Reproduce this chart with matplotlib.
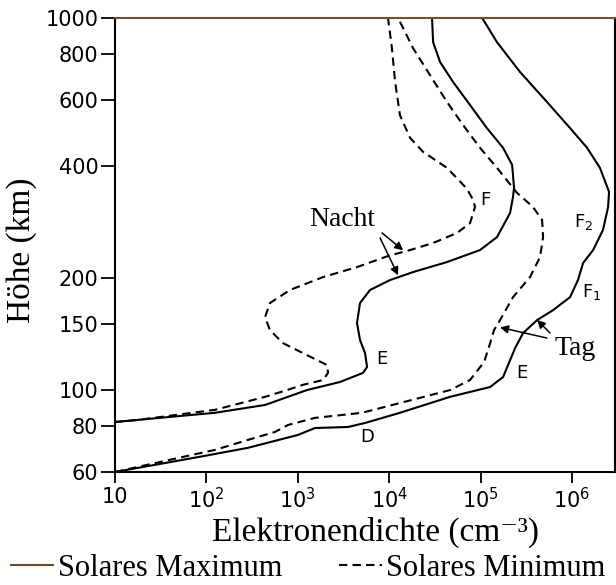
import numpy as np
import matplotlib
matplotlib.use('Agg')
import matplotlib.pyplot as plt
from matplotlib.lines import Line2D
from matplotlib.ticker import NullLocator

# electron density (cm^-3) and height (km)
# night, solar minimum (dashed)
nacht_min_n = [10, 17.4, 124, 438, 762, 1140, 1890, 2140, 2090, 1260, 689, 496, 438, 496,
               822, 1890, 4440, 9700, 16900, 30200, 55200, 76600, 86800, 82600, 71000,
               42900, 23400, 16900, 13100, 11600, 10700, 9700]
nacht_min_h = [81.8, 82.8, 88.2, 95.6, 99.7, 103, 106.1, 110.9, 116.4, 123.8, 133.3, 144.5,
               156.6, 171, 185.4, 200.8, 213.6, 228.8, 237.4, 248, 263.9, 280.7, 310,
               323.9, 346.9, 395, 436.4, 475.9, 547.7, 672.9, 829.9, 1000]

# night, solar maximum (solid)
nacht_max_n = [10, 124, 438, 1260, 2890, 5170, 5720, 5440, 4790, 4440, 4790, 6170, 10200,
               18200, 42900, 98500, 151000, 210000, 226000, 232000, 221000, 176000, 117000,
               76600, 49900, 36000, 30200, 29400]
nacht_max_h = [81.8, 86.6, 90.9, 99.7, 104.8, 110.9, 115, 125.3, 135.9, 151, 171, 185.4,
               197.1, 207.1, 220.4, 237.4, 257.3, 298.8, 330, 349, 402.5, 447.3, 505.5,
               583, 672.9, 761.1, 860.8, 1000]

# day, solar minimum (dashed)
tag_min_n = [10, 54.1, 124, 285, 563, 781, 1542, 5040, 13100, 46300, 76600, 109000, 127000,
             140000, 163000, 226000, 347000, 447000, 482000, 470000, 374000, 250000, 151000,
             98500, 64200, 42900, 27900, 18200, 12500]
tag_min_h = [60, 65.8, 68.8, 73.2, 76.9, 80.3, 83.9, 86.6, 92, 99.7, 106.1, 118.6, 133.3,
             144.5, 153.8, 177.3, 200.8, 227.4, 257.3, 286.1, 310, 338.3, 395,
             447.3, 515.2, 594, 702.2, 829.9, 1000]

# day, solar maximum (solid)
tag_max_n = [10, 80.9, 285, 1005, 1542, 3540, 5440, 13100, 46300, 127000, 176000, 210000,
             238000, 291000, 414000, 620000, 951000, 1160000, 1320000, 1700000, 2180000,
             2480000, 2540000, 2020000, 1460000, 951000, 533000, 270000, 151000, 104000]
tag_max_h = [60, 65.8, 69.7, 75.5, 78.8, 79.3, 81.3, 86.6, 95.6, 101.6, 108.1, 120,
             129.3, 141.9, 153.8, 163.6, 177.3, 197.1, 219, 237.4, 268.9,
             310, 340.4, 395, 447.3, 505.5, 594, 715.4, 860.8, 1000]

h_ticks = [60, 80, 100, 150, 200, 400, 600, 800, 1000]
n_ticks = [10, 1e2, 1e3, 1e4, 1e5, 1e6]
n_tick_labels = ['10', '$10^{2}$', '$10^{3}$', '$10^{4}$', '$10^{5}$', '$10^{6}$']

serif = ['Liberation Serif', 'DejaVu Serif']
sans = ['DejaVu Sans']

fig = plt.figure(figsize=(6.16, 5.85), dpi=100)
ax = fig.add_axes([115/616, 1 - 472/585, 500/616, 454/585])
ax.set_xscale('log')
ax.set_yscale('log')

lw = 1.5
dash = (0, (4, 2.5))
ax.plot(nacht_min_n, nacht_min_h, color='k', lw=lw, ls=dash)
ax.plot(tag_min_n, tag_min_h, color='k', lw=lw, ls=dash)
ax.plot(nacht_max_n, nacht_max_h, color='k', lw=lw)
ax.plot(tag_max_n, tag_max_h, color='k', lw=lw)

ax.set_xlim(10, 2.95e6)
ax.set_ylim(60, 1000)

ax.set_yticks(h_ticks)
ax.set_yticklabels([str(v) for v in h_ticks])
ax.yaxis.set_minor_locator(NullLocator())
ax.set_xticks(n_ticks)
ax.set_xticklabels(n_tick_labels)
ax.xaxis.set_minor_locator(NullLocator())
ax.tick_params(axis='y', direction='out', length=10, width=1.3, pad=2, labelsize=15)
ax.tick_params(axis='x', direction='out', length=8, width=1.3, pad=3, labelsize=15)
for s in ax.spines.values():
    s.set_linewidth(1.5)
ax.spines['top'].set_color('#6e5038')

# layer labels
ax.text(8340, 121, 'E', fontsize=13, family=sans, ha='center', va='center')
ax.text(284000, 111, 'E', fontsize=13, family=sans, ha='center', va='center')
ax.text(5710, 74.4, 'D', fontsize=13, family=sans, ha='center', va='center')
ax.text(112000, 324, 'F', fontsize=13, family=sans, ha='center', va='center')
ax.text(1.35e6, 282, r'F$_\mathregular{2}$', fontsize=13, family=sans, ha='center', va='center')
ax.text(1.66e6, 183, r'F$_\mathregular{1}$', fontsize=13, family=sans, ha='center', va='center')

# Nacht / Tag with arrows
ax.text(3050, 286, 'Nacht', fontsize=20, family=serif, ha='center', va='center')
ax.text(1.08e6, 129, 'Tag', fontsize=20, family=serif, ha='center', va='center')
arr = dict(arrowstyle='-|>', color='k', lw=1.1, mutation_scale=12, shrinkA=0, shrinkB=0)
ax.annotate('', xy=(14200, 237), xytext=(8340, 264), arrowprops=arr)
ax.annotate('', xy=(12500, 203), xytext=(7930, 256), arrowprops=arr)
ax.annotate('', xy=(163000, 147), xytext=(532000, 137.6), arrowprops=arr)
ax.annotate('', xy=(414000, 154), xytext=(574000, 142), arrowprops=arr)

# axis titles
fig.text(22/616, 1 - 250/585, 'Höhe (km)', rotation=90, fontsize=24, family=serif,
         ha='center', va='center')
fig.text(375/616, 1 - 532/585, 'Elektronendichte (cm⁻³)', fontsize=24, family=serif,
         ha='center', va='center')

# legend at the bottom
handles = [Line2D([], [], color='#6e4a2a', lw=1.5),
           Line2D([], [], color='k', lw=1.5, ls=dash)]
fig.legend(handles, ['Solares Maximum', 'Solares Minimum'], loc='center',
           bbox_to_anchor=(0.5, 1 - 568/585), ncol=2, frameon=False,
           prop={'family': serif, 'size': 22}, handlelength=1.4, handletextpad=0.15,
           columnspacing=1.85, borderpad=0, borderaxespad=0)

fig.savefig('out.png', dpi=100)
